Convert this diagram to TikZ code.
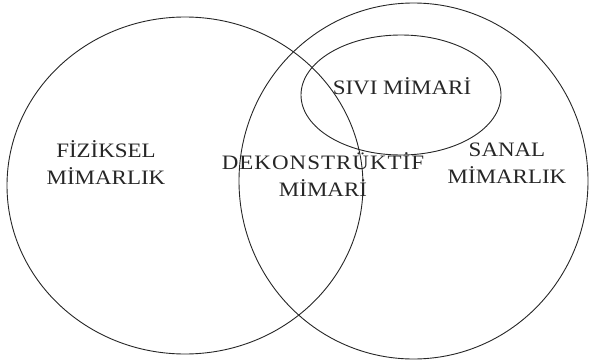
\documentclass[tikz,border=0pt]{standalone}
\usepackage{fontspec}
\setmainfont{Liberation Serif}[FakeStretch=1.12]
\begin{document}
\begin{tikzpicture}[x=1pt,y=-1pt,
  ring/.style={draw=black!85,line width=0.9pt},
  lbl/.style={text=black!85,align=center,inner sep=0pt,font=\fontsize{20.5}{27}\selectfont}]
\useasboundingbox (0,0) rectangle (589,361);
\draw[ring] (185,185.5) ellipse [x radius=178,y radius=168.5];
\draw[ring] (413.5,181) ellipse [x radius=174.5,y radius=178];
\draw[ring] (401,95) ellipse [x radius=100,y radius=60];
\node[lbl] (fiz) at (106,163) {FİZİKSEL\\MİMARLIK};
\node[lbl] (dek) at (323,175) {{\addfontfeature{LetterSpace=5}DEKONSTRÜKTİF}\\MİMARİ};
\node[lbl] (siv) at (402,86) {SIVI MİMARİ};
\node[lbl] (san) at (507,163) {SANAL\\MİMARLIK};
\end{tikzpicture}
\end{document}
